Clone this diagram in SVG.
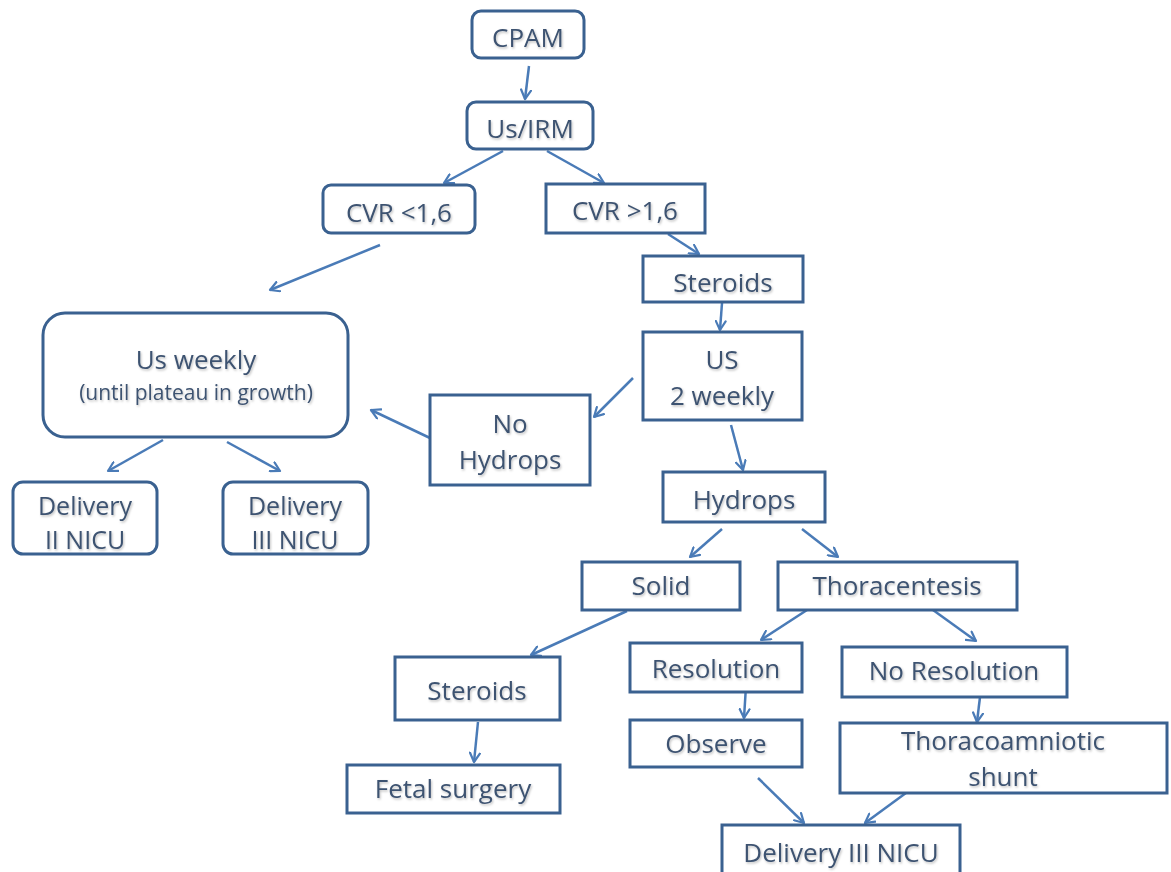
<svg xmlns="http://www.w3.org/2000/svg" width="1171" height="872" viewBox="0 0 1171 872">
<defs>
<marker id="ah" viewBox="0 0 12 12" refX="10" refY="6" markerWidth="12" markerHeight="12" markerUnits="userSpaceOnUse" orient="auto">
<path d="M1,1 L10,6 L1,11" fill="none" stroke="#4a7bb7" stroke-width="2.2" stroke-linecap="round" stroke-linejoin="round"/>
</marker>
<filter id="sh" x="-10%" y="-30%" width="120%" height="160%">
<feDropShadow dx="1" dy="1.5" stdDeviation="1" flood-color="#000" flood-opacity="0.25"/>
</filter>
</defs>
<style>
.b{fill:#fff;stroke:#3a6190;stroke-width:3}
.t{font-family:"Open Sans",Lato,"Liberation Sans",sans-serif;font-size:26px;fill:#3e5371;text-anchor:middle;filter:url(#sh)}
.s{font-size:21px}
.d{font-size:25px}
.c{fill:none;stroke:#4a7bb7;stroke-width:2.5;marker-end:url(#ah)}
</style>
<rect width="1171" height="872" fill="#fff"/>
<g id="connectors">
<line class="c" x1="529" y1="66" x2="525" y2="99"/>
<line class="c" x1="503" y1="151" x2="444" y2="183"/>
<line class="c" x1="547" y1="151" x2="604" y2="183"/>
<line class="c" x1="380" y1="245" x2="270" y2="290"/>
<line class="c" x1="668" y1="234" x2="699" y2="254"/>
<line class="c" x1="722" y1="303" x2="720" y2="330"/>
<line class="c" x1="633" y1="378" x2="594" y2="417"/>
<line class="c" x1="430" y1="438" x2="371" y2="410"/>
<line class="c" x1="731" y1="425" x2="743" y2="470"/>
<line class="c" x1="163" y1="440" x2="108" y2="471"/>
<line class="c" x1="227" y1="442" x2="280" y2="471"/>
<line class="c" x1="722" y1="529" x2="690" y2="557"/>
<line class="c" x1="802" y1="529" x2="838" y2="557"/>
<line class="c" x1="627" y1="611" x2="531" y2="655"/>
<line class="c" x1="807" y1="610" x2="761" y2="640"/>
<line class="c" x1="933" y1="610" x2="976" y2="641"/>
<line class="c" x1="478" y1="722" x2="474" y2="762"/>
<line class="c" x1="746" y1="686" x2="744" y2="718"/>
<line class="c" x1="980" y1="697" x2="977" y2="722"/>
<line class="c" x1="758" y1="778" x2="804" y2="823"/>
<line class="c" x1="910" y1="790" x2="865" y2="823"/>
</g>
<g id="n-cpam"><rect class="b" x="472" y="11" width="112" height="47" rx="9"/><text class="t" x="528" y="47">CPAM</text></g>
<g id="n-usirm"><rect class="b" x="467" y="102" width="126" height="47" rx="9"/><text class="t" x="530" y="138">Us/IRM</text></g>
<g id="n-cvr-lt"><rect class="b" x="323" y="185" width="152" height="48" rx="8"/><text class="t" x="399" y="222">CVR &lt;1,6</text></g>
<g id="n-cvr-gt"><rect class="b" x="546" y="184" width="159" height="49"/><text class="t" x="625" y="220">CVR &gt;1,6</text></g>
<g id="n-steroids1"><rect class="b" x="643" y="256" width="160" height="46"/><text class="t" x="723" y="292">Steroids</text></g>
<g id="n-us2"><rect class="b" x="643" y="332" width="159" height="88"/><text class="t" x="722" y="369">US</text><text class="t" x="722" y="405">2 weekly</text></g>
<g id="n-nohydrops"><rect class="b" x="430" y="395" width="160" height="90"/><text class="t" x="510" y="433">No</text><text class="t" x="510" y="469">Hydrops</text></g>
<g id="n-usweekly"><rect class="b" x="43" y="313" width="305" height="124" rx="22"/><text class="t" x="196" y="369">Us weekly</text><text class="t s" x="196" y="400">(until plateau in growth)</text></g>
<g id="n-deliv2"><rect class="b" x="13" y="482" width="144" height="72" rx="10"/><text class="t d" x="85" y="515">Delivery</text><text class="t d" x="85" y="549">II NICU</text></g>
<g id="n-deliv3a"><rect class="b" x="223" y="482" width="145" height="72" rx="10"/><text class="t d" x="295" y="515">Delivery</text><text class="t d" x="295" y="549">III NICU</text></g>
<g id="n-hydrops"><rect class="b" x="663" y="472" width="162" height="50"/><text class="t" x="744" y="509">Hydrops</text></g>
<g id="n-solid"><rect class="b" x="582" y="562" width="158" height="48"/><text class="t" x="661" y="595">Solid</text></g>
<g id="n-thora"><rect class="b" x="778" y="562" width="239" height="48"/><text class="t" x="897" y="595">Thoracentesis</text></g>
<g id="n-resol"><rect class="b" x="630" y="643" width="172" height="49"/><text class="t" x="716" y="678">Resolution</text></g>
<g id="n-noresol"><rect class="b" x="842" y="647" width="225" height="50"/><text class="t" x="954" y="680">No Resolution</text></g>
<g id="n-steroids2"><rect class="b" x="395" y="657" width="165" height="63"/><text class="t" x="477" y="700">Steroids</text></g>
<g id="n-fetal"><rect class="b" x="347" y="765" width="213" height="48"/><text class="t" x="453" y="798">Fetal surgery</text></g>
<g id="n-observe"><rect class="b" x="630" y="720" width="172" height="47"/><text class="t" x="716" y="753">Observe</text></g>
<g id="n-shunt"><rect class="b" x="840" y="723" width="327" height="70"/><text class="t" x="1003" y="750">Thoracoamniotic</text><text class="t" x="1003" y="786">shunt</text></g>
<g id="n-deliv3b"><rect class="b" x="722" y="825" width="238" height="60"/><text class="t" x="841" y="862">Delivery III NICU</text></g>
</svg>
